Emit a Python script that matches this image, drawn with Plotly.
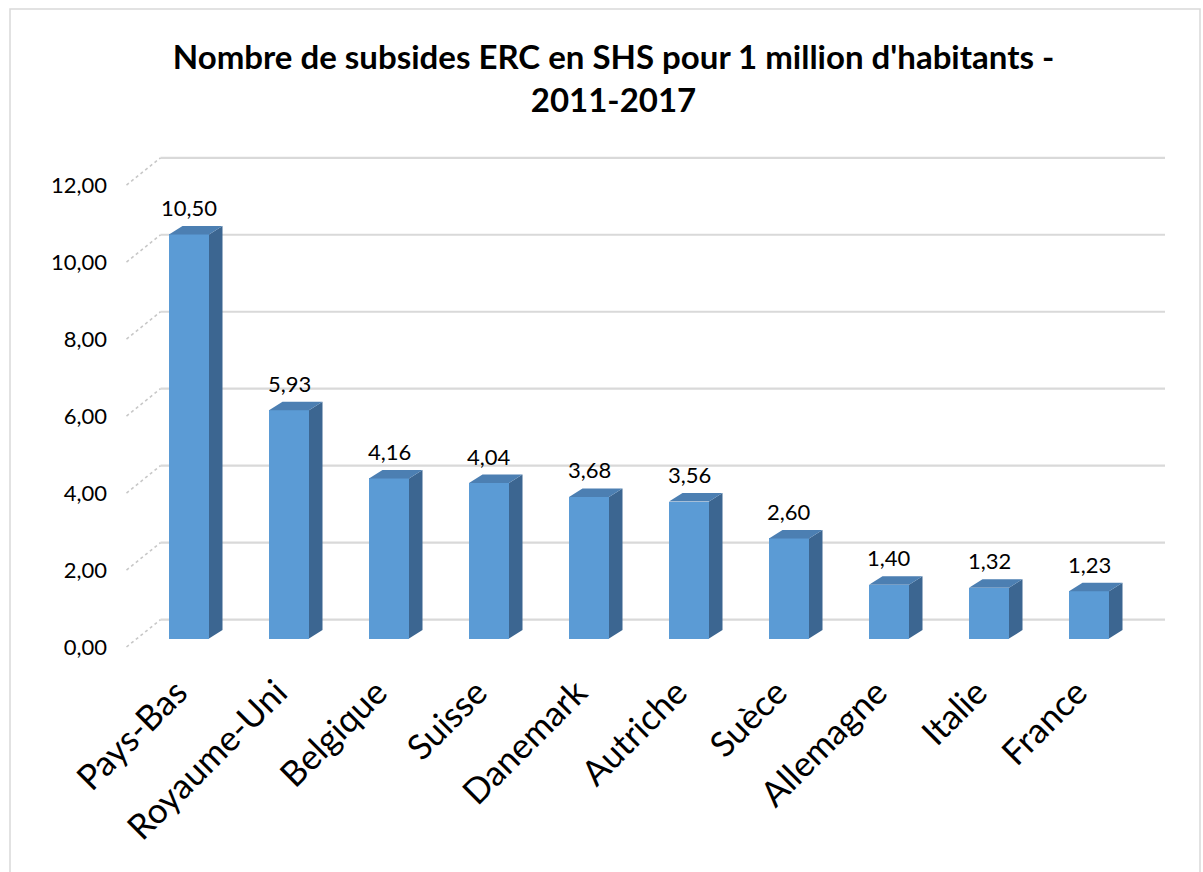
import plotly.graph_objects as go

# ---- data ----
countries = ["Pays-Bas", "Royaume-Uni", "Belgique", "Suisse", "Danemark",
             "Autriche", "Suèce", "Allemagne", "Italie", "France"]
values = [10.50, 5.93, 4.16, 4.04, 3.68, 3.56, 2.60, 1.40, 1.32, 1.23]
y_ticks = [0, 2, 4, 6, 8, 10, 12]
title_text = "Nombre de subsides ERC en SHS pour 1 million d'habitants -<br>2011-2017"

# ---- geometry / style ----
W, H = 1203, 872
ML, MR, MT, MB = 124, 24, 142, 220
XR = [-0.65, 9.9]
YR = [-0.35, 12.9]
HW = 0.2          # half bar width (category units)
DX, DY = 0.135, 0.22   # 3D depth offsets of the bars
GX0, GX1 = -0.285, 9.76  # back wall extent
GFX, GBY, GFY = -0.625, 0.49, -0.22  # side-wall diagonal front x, back y offset, front y offset

FRONT = "#5B9BD5"
SIDE = "#3C6691"
TOP = "#4C7FB2"
GRID = "#D9D9D9"
FONT = "Lato, 'Open Sans', sans-serif"

xs = list(range(len(countries)))
fig = go.Figure()

# back wall grid lines + side wall diagonals (below the bars)
for t in y_ticks:
    fig.add_shape(type="line", xref="x", yref="y", x0=GX0, x1=GX1, y0=t + GBY, y1=t + GBY,
                  line=dict(color=GRID, width=2.2), layer="below")
    fig.add_shape(type="line", xref="x", yref="y", x0=GFX, x1=GX0, y0=t + GFY, y1=t + GBY,
                  line=dict(color="#C8C8C8", width=1.6, dash="dot"), layer="below")

# side and top faces
sx, sy, tx, ty = [], [], [], []
for i, v in zip(xs, values):
    sx += [i + HW, i + HW + DX, i + HW + DX, i + HW, i + HW, None]
    sy += [0, DY, v + DY, v, 0, None]
    tx += [i - HW, i + HW, i + HW + DX, i - HW + DX, i - HW, None]
    ty += [v, v, v + DY, v + DY, v, None]
fig.add_trace(go.Scatter(x=sx, y=sy, mode="lines", fill="toself", fillcolor=SIDE,
                         line=dict(width=0, color=SIDE), hoverinfo="skip", showlegend=False))
fig.add_trace(go.Scatter(x=tx, y=ty, mode="lines", fill="toself", fillcolor=TOP,
                         line=dict(width=0, color=TOP), hoverinfo="skip", showlegend=False))

# front faces
fig.add_trace(go.Bar(x=xs, y=values, width=2 * HW, marker=dict(color=FRONT, line=dict(width=0)),
                     showlegend=False))

# data labels
for i, v in zip(xs, values):
    fig.add_annotation(x=i, y=v, text=f"{v:.2f}".replace(".", ","), showarrow=False,
                       yshift=27, yanchor="middle", xanchor="center",
                       font=dict(family=FONT, size=22, color="#000000"))

# chart border
pw, ph = W - ML - MR, H - MT - MB
fig.add_shape(type="rect", xref="paper", yref="paper",
              x0=(10 - ML) / pw, x1=(1200 - ML) / pw,
              y0=-(880 - (H - MB)) / ph, y1=1 + (MT - 9) / ph,
              line=dict(color="#D9D9D9", width=1.5), fillcolor="rgba(0,0,0,0)", layer="below")

fig.update_layout(
    width=W, height=H,
    margin=dict(l=ML, r=MR, t=MT, b=MB, pad=0),
    paper_bgcolor="white", plot_bgcolor="white",
    separators=", ",
    bargap=0,
    title=dict(text=title_text, x=0.51, xanchor="center", xref="container",
               y=1 - 69 / H, yanchor="middle", yref="container",
               font=dict(family=FONT, size=33, color="#000000", weight="bold")),
    xaxis=dict(range=XR, tickmode="array", tickvals=xs, ticktext=countries,
               tickangle=-45, showgrid=False, zeroline=False, showline=False,
               ticks="", ticklabelstandoff=12, ticklabelshift=-12,
               tickfont=dict(family=FONT, size=35, color="#000000")),
    yaxis=dict(range=YR, tickmode="array", tickvals=y_ticks, tickformat=".2f",
               showgrid=False, zeroline=False, showline=False, ticks="",
               ticklabelshift=9, ticklabelstandoff=16,
               tickfont=dict(family=FONT, size=22, color="#000000")),
)

fig.write_html("out.html", config={"displayModeBar": False},
               post_script="document.body.style.margin='0px';")
